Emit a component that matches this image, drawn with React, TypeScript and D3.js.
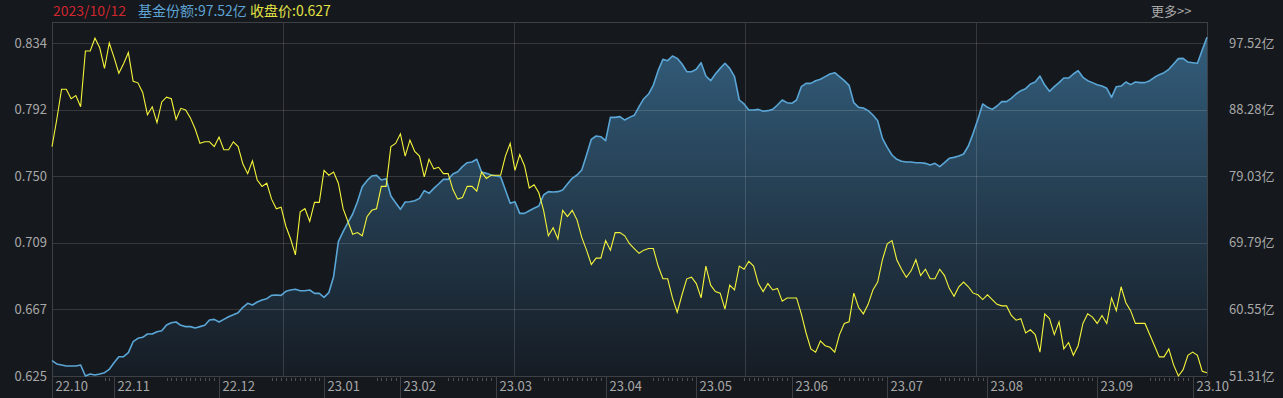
import React, { useEffect, useRef } from 'react';
import * as d3 from 'd3';

// month labels on the x axis and number of trading days in each (first / last month partial)
const monthLabels = ['22.10', '22.11', '22.12', '23.01', '23.02', '23.03', '23.04', '23.05', '23.06', '23.07', '23.08', '23.09', '23.10'];
const monthDays = [13, 22, 22, 16, 20, 23, 19, 20, 20, 21, 23, 20, 4];
// small day ticks shown at the end of each month
const monthMinorTicks = [2, 11, 11, 5, 10, 13, 9, 10, 10, 10, 13, 9, 0];

const priceTicks = ['0.625', '0.667', '0.709', '0.750', '0.792', '0.834'];
const shareTicks = ['51.31亿', '60.55亿', '69.79亿', '79.03亿', '88.28亿', '97.52亿'];

// 收盘价
const closePrice = [
  0.769, 0.786, 0.805, 0.805, 0.799, 0.801, 0.794, 0.829, 0.829, 0.837,
  0.831, 0.818, 0.834, 0.825, 0.815, 0.821, 0.828, 0.810, 0.809, 0.803,
  0.789, 0.794, 0.784, 0.797, 0.800, 0.799, 0.786, 0.793, 0.792, 0.787,
  0.780, 0.771, 0.772, 0.772, 0.769, 0.775, 0.767, 0.767, 0.772, 0.769,
  0.758, 0.752, 0.760, 0.748, 0.744, 0.746, 0.736, 0.730, 0.731, 0.719,
  0.711, 0.701, 0.728, 0.730, 0.722, 0.734, 0.734, 0.754, 0.751, 0.753,
  0.746, 0.730, 0.722, 0.714, 0.715, 0.713, 0.725, 0.729, 0.730, 0.744,
  0.744, 0.769, 0.771, 0.777, 0.763, 0.773, 0.766, 0.763, 0.750, 0.761,
  0.755, 0.756, 0.752, 0.752, 0.742, 0.736, 0.737, 0.744, 0.744, 0.741,
  0.753, 0.749, 0.751, 0.751, 0.751, 0.763, 0.771, 0.754, 0.764, 0.757,
  0.743, 0.745, 0.740, 0.729, 0.713, 0.718, 0.711, 0.729, 0.725, 0.729,
  0.723, 0.712, 0.704, 0.695, 0.699, 0.699, 0.710, 0.704, 0.715, 0.715,
  0.713, 0.708, 0.705, 0.702, 0.704, 0.705, 0.705, 0.694, 0.686, 0.686,
  0.674, 0.665, 0.676, 0.686, 0.687, 0.683, 0.674, 0.694, 0.682, 0.678,
  0.677, 0.667, 0.682, 0.679, 0.694, 0.692, 0.697, 0.694, 0.683, 0.678,
  0.683, 0.679, 0.680, 0.672, 0.674, 0.674, 0.674, 0.664, 0.652, 0.642,
  0.640, 0.647, 0.644, 0.643, 0.640, 0.651, 0.658, 0.659, 0.677, 0.668,
  0.664, 0.670, 0.679, 0.684, 0.698, 0.708, 0.710, 0.698, 0.692, 0.687,
  0.691, 0.698, 0.688, 0.692, 0.686, 0.686, 0.692, 0.688, 0.680, 0.675,
  0.681, 0.684, 0.681, 0.677, 0.676, 0.673, 0.676, 0.673, 0.670, 0.669,
  0.669, 0.663, 0.660, 0.661, 0.652, 0.654, 0.651, 0.640, 0.664, 0.661,
  0.651, 0.659, 0.642, 0.646, 0.638, 0.644, 0.658, 0.664, 0.662, 0.658,
  0.663, 0.658, 0.674, 0.666, 0.681, 0.671, 0.666, 0.658, 0.658, 0.658,
  0.651, 0.644, 0.637, 0.637, 0.642, 0.632, 0.625, 0.629, 0.638, 0.640,
  0.638, 0.628, 0.627,
];

// 基金份额 (亿)
const fundShares = [
  53.44, 52.98, 52.84, 52.70, 52.70, 52.70, 52.84, 51.31, 51.59, 51.45,
  51.59, 51.77, 52.24, 53.16, 53.99, 53.99, 54.55, 56.07, 56.54, 56.68,
  57.14, 57.14, 57.46, 57.60, 58.39, 58.71, 58.80, 58.34, 58.16, 58.16,
  57.97, 58.16, 58.34, 59.08, 59.17, 58.80, 59.17, 59.54, 59.82, 60.10,
  60.84, 61.39, 61.16, 61.58, 61.86, 62.04, 62.50, 62.55, 62.50, 63.06,
  63.24, 63.34, 63.15, 63.15, 63.24, 62.78, 62.78, 62.23, 62.87, 65.09,
  69.95, 71.34, 72.59, 73.79, 75.50, 77.58, 78.42, 79.06, 79.16, 78.51,
  78.69, 76.29, 75.36, 74.44, 75.46, 75.50, 75.64, 75.96, 77.03, 76.66,
  77.35, 77.95, 78.60, 78.60, 79.34, 79.66, 80.36, 80.91, 81.01, 81.38,
  79.62, 79.43, 79.20, 79.06, 78.97, 77.12, 75.27, 75.50, 73.88, 73.88,
  74.25, 74.58, 74.90, 76.43, 76.89, 76.84, 76.89, 77.12, 77.95, 78.74,
  79.20, 79.90, 81.98, 84.15, 84.61, 84.52, 83.97, 87.20, 87.20, 87.30,
  86.83, 87.20, 87.48, 88.68, 89.79, 90.44, 91.69, 93.68, 95.25, 95.07,
  95.72, 95.39, 94.61, 93.54, 93.54, 93.87, 94.79, 92.94, 92.29, 93.22,
  94.00, 94.70, 94.00, 92.85, 89.61, 89.06, 88.22, 88.22, 88.31, 88.04,
  88.13, 88.31, 88.92, 89.61, 89.24, 89.15, 89.61, 91.46, 91.92, 91.92,
  92.29, 92.48, 92.85, 93.22, 93.40, 92.85, 92.29, 91.65, 89.24, 88.59,
  88.50, 88.13, 87.53, 86.74, 84.29, 83.04, 81.98, 81.38, 81.10, 81.01,
  81.01, 80.91, 80.91, 80.82, 80.59, 80.82, 80.36, 80.91, 81.52, 81.65,
  81.84, 82.12, 83.23, 84.98, 86.93, 89.06, 88.59, 88.31, 88.78, 89.38,
  89.38, 89.84, 90.44, 90.90, 91.18, 91.83, 92.11, 92.94, 91.69, 90.81,
  91.46, 92.02, 92.66, 92.66, 93.22, 93.68, 92.76, 92.29, 92.02, 91.74,
  91.55, 91.23, 89.98, 91.46, 91.55, 92.11, 91.74, 92.11, 92.02, 92.02,
  92.29, 92.76, 93.13, 93.40, 93.87, 94.61, 95.35, 95.39, 94.88, 94.79,
  94.70, 96.55, 98.31,
];

const WIDTH = 1283;
const HEIGHT = 398;
const FONT = '"Noto Sans CJK SC", "Noto Sans", sans-serif';

const FundChart = () => {
  const svgRef = useRef<SVGSVGElement | null>(null);

  useEffect(() => {
    const svg = d3.select(svgRef.current);
    svg.selectAll('*').remove();

    const left = 52, right = 1207, top = 22, bottom = 376, gridTop = 43;
    const n = closePrice.length;

    const x = d3.scaleLinear().domain([0, n - 1]).range([left, right]);
    const yPrice = d3.scaleLinear().domain([+priceTicks[0], +priceTicks[priceTicks.length - 1]]).range([bottom, gridTop]);
    const yShare = d3.scaleLinear().domain([51.31, 97.52]).range([bottom, gridTop]);
    const yRow = d3.scaleLinear().domain([0, priceTicks.length - 1]).range([bottom, gridTop]);

    svg.append('rect').attr('width', WIDTH).attr('height', HEIGHT).attr('fill', '#15181d');

    // gradient for share area
    const defs = svg.append('defs');
    const grad = defs.append('linearGradient').attr('id', 'shareGrad')
      .attr('gradientUnits', 'userSpaceOnUse')
      .attr('x1', 0).attr('y1', top).attr('x2', 0).attr('y2', bottom);
    grad.append('stop').attr('offset', '0%').attr('stop-color', '#34607f');
    grad.append('stop').attr('offset', '100%').attr('stop-color', '#161c24');

    const area = d3.area<number>()
      .x((d, i) => x(i))
      .y0(bottom)
      .y1(d => yShare(d));
    svg.append('path').datum(fundShares).attr('d', area).attr('fill', 'url(#shareGrad)');

    // --- grid ---
    const grid = svg.append('g').attr('stroke', 'rgba(255,255,255,0.14)').attr('stroke-width', 1).attr('shape-rendering', 'crispEdges');
    d3.range(priceTicks.length).forEach(k => {
      grid.append('line').attr('x1', left).attr('x2', right).attr('y1', yRow(k) + 0.5).attr('y2', yRow(k) + 0.5);
    });
    d3.range(1, 5).forEach(k => {
      const gx = Math.round(left + (k * (right - left)) / 5) + 0.5;
      grid.append('line').attr('x1', gx).attr('x2', gx).attr('y1', top).attr('y2', bottom);
    });

    // --- frame ---
    const frame = svg.append('g').attr('stroke', '#3d4045').attr('stroke-width', 1).attr('shape-rendering', 'crispEdges');
    frame.append('line').attr('x1', left).attr('x2', right).attr('y1', top + 0.5).attr('y2', top + 0.5);
    frame.append('line').attr('x1', left + 0.5).attr('x2', left + 0.5).attr('y1', top).attr('y2', HEIGHT);
    frame.append('line').attr('x1', right + 0.5).attr('x2', right + 0.5).attr('y1', top).attr('y2', bottom);
    frame.append('line').attr('x1', left).attr('x2', right).attr('y1', bottom + 0.5).attr('y2', bottom + 0.5);

    // --- month ticks, minor ticks, labels ---
    let start = 0;
    monthLabels.forEach((label, m) => {
      const mx = Math.round(x(start)) + 0.5;
      if (m > 0) {
        svg.append('line').attr('x1', mx).attr('x2', mx).attr('y1', bottom).attr('y2', HEIGHT)
          .attr('stroke', '#3d4045').attr('shape-rendering', 'crispEdges');
      }
      const days = monthDays[m];
      for (let j = days - monthMinorTicks[m]; j < days; j++) {
        const tx = Math.round(x(start + j)) + 0.5;
        svg.append('line').attr('x1', tx).attr('x2', tx).attr('y1', bottom + 2).attr('y2', bottom + 5)
          .attr('stroke', '#4d5056').attr('shape-rendering', 'crispEdges');
      }
      svg.append('text')
        .attr('x', mx + 3).attr('y', 391)
        .attr('fill', '#a8a8a8').style('font-size', '13px').style('font-family', FONT)
        .text(label);
      start += days;
    });

    // --- lines ---
    const shareLine = d3.line<number>().x((d, i) => x(i)).y(d => yShare(d));
    svg.append('path').datum(fundShares).attr('d', shareLine)
      .attr('fill', 'none').attr('stroke', '#5aa6d6').attr('stroke-width', 1.6).attr('stroke-linejoin', 'round');

    const priceLine = d3.line<number>().x((d, i) => x(i)).y(d => yPrice(d));
    svg.append('path').datum(closePrice).attr('d', priceLine)
      .attr('fill', 'none').attr('stroke', '#f4f43a').attr('stroke-width', 1.1);

    // --- y axis labels ---
    priceTicks.forEach((t, k) => {
      svg.append('text')
        .attr('x', 47).attr('y', yRow(k) + 1).attr('text-anchor', 'end').attr('dominant-baseline', 'middle')
        .attr('fill', '#a8a8a8').style('font-size', '13px').style('font-family', FONT)
        .text(t);
    });
    shareTicks.forEach((t, k) => {
      svg.append('text')
        .attr('x', 1229).attr('y', yRow(k) + 1).attr('dominant-baseline', 'middle')
        .attr('fill', '#a8a8a8').style('font-size', '13px').style('font-family', FONT)
        .text(t);
    });

    // --- header ---
    const header = [
      { x: 53, text: '2023/10/12', color: '#d0262d' },
      { x: 138, text: '基金份额:97.52亿', color: '#5da3d3' },
      { x: 250, text: '收盘价:0.627', color: '#e3e345' },
    ];
    header.forEach(h => {
      svg.append('text').attr('x', h.x).attr('y', 16)
        .attr('fill', h.color).style('font-size', '14px').style('font-family', FONT)
        .text(h.text);
    });
    svg.append('text').attr('x', 1151).attr('y', 16)
      .attr('fill', '#a8a8a8').style('font-size', '13px').style('font-family', FONT)
      .text('更多>>');
  }, []);

  return <svg ref={svgRef} width={WIDTH} height={HEIGHT} style={{ position: 'absolute', left: 0, top: 0, display: 'block' }} />;
};

export default function App() {
  return <FundChart />;
}
